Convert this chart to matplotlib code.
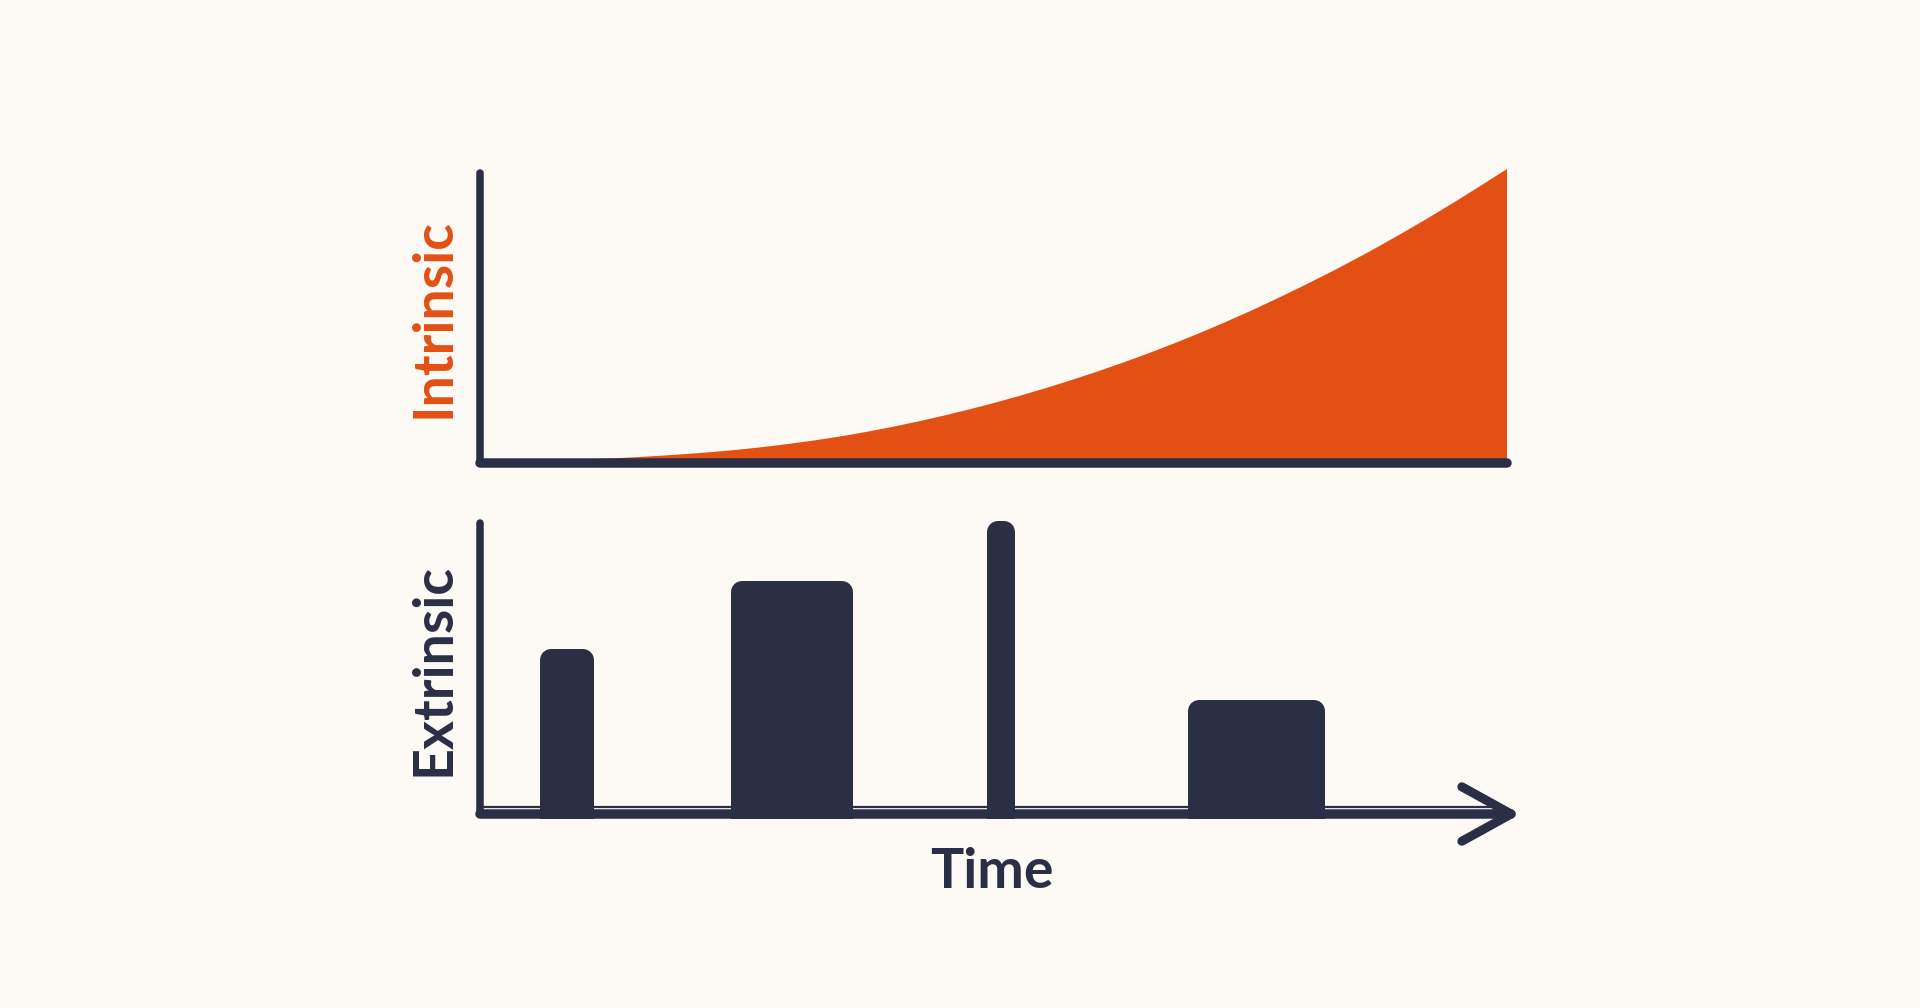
import matplotlib.pyplot as plt
from matplotlib.patches import PathPatch
from matplotlib.path import Path

# Intrinsic motivation (time 0..100, value 0..100)
intrinsic_time = [0, 5, 10, 15, 20, 25, 30, 35, 40, 45, 50,
                  55, 60, 65, 70, 75, 80, 85, 90, 95, 100]
intrinsic_value = [0, 0.5, 1.1, 1.9, 3.0, 4.4, 6.4, 8.9, 12.1, 15.9, 20.3,
                   25.3, 30.9, 37.1, 44.0, 51.6, 59.9, 68.8, 78.5, 88.9, 100]

# Extrinsic rewards: start/end time of each burst and its height
reward_start = [5.8, 24.4, 49.4, 68.9]
reward_end = [11.1, 36.3, 52.1, 82.3]
reward_height = [56.3, 79.5, 100.0, 38.9]
reward_floor = 2.4

labels = {"top": "Intrinsic", "bottom": "Extrinsic", "x": "Time"}

BG = "#FDFAF6"
ORANGE = "#E25014"
NAVY = "#2A2F45"
DPI = 100


def px(n: float) -> float:
    """Pixels to points."""
    return n * 72 / DPI


def smooth_area(xs: list[float], ys: list[float]) -> Path:
    """Closed area under the points, drawn with quadratic curves between midpoints."""
    verts = [(xs[0], 0), (xs[0], ys[0])]
    codes = [Path.MOVETO, Path.LINETO]
    for i in range(1, len(xs) - 1):
        mid = ((xs[i] + xs[i + 1]) / 2, (ys[i] + ys[i + 1]) / 2)
        verts += [(xs[i], ys[i]), mid]
        codes += [Path.CURVE3, Path.CURVE3]
    verts += [(xs[-1], ys[-1]), (xs[-1], 0), (xs[0], 0)]
    codes += [Path.LINETO, Path.LINETO, Path.CLOSEPOLY]
    return Path(verts, codes)


def draw_axes_lines(ax, y_top: float, x_end: float) -> None:
    """Hand-drawn looking axis lines with round caps."""
    ax.plot([0, 0], [0, y_top], color=NAVY, lw=px(7.5),
            solid_capstyle="round", clip_on=False, zorder=5)
    ax.plot([0, x_end], [0, 0], color=NAVY, lw=px(9.5),
            solid_capstyle="round", clip_on=False, zorder=5)


fig = plt.figure(figsize=(19.2, 10.08), dpi=DPI, facecolor=BG)

# --- top panel: intrinsic ---
ax1 = fig.add_axes([480 / 1920, (1008 - 463) / 1008, 1027 / 1920, 294 / 1008])
ax1.set_xlim(0, 100)
ax1.set_ylim(0, 100)
ax1.add_patch(PathPatch(smooth_area(intrinsic_time, intrinsic_value),
                        facecolor=ORANGE, edgecolor="none", zorder=2))
draw_axes_lines(ax1, 98.6, 100)

# --- bottom panel: extrinsic ---
ax2 = fig.add_axes([480 / 1920, (1008 - 818.7) / 1008, 1027 / 1920, 297.7 / 1008])
ax2.set_xlim(0, 100)
ax2.set_ylim(-1.6, 100)

x0, y0 = ax2.transData.transform((0, 0))
x1, y1 = ax2.transData.transform((1, 1))
radius = 11  # corner radius in px
rx = radius / (x1 - x0)
ry = radius / (y1 - y0)

ax2.hlines(reward_floor, 0, 98.5, color=NAVY, lw=px(2.2), zorder=3)
for s, e, h in zip(reward_start, reward_end, reward_height):
    ax2.bar(s + rx, h - ry + 10, width=(e - s) - 2 * rx, bottom=-10,
            align="edge", color=NAVY, edgecolor=NAVY, linewidth=px(2 * radius),
            joinstyle="round", zorder=4)

draw_axes_lines(ax2, 99.2, 100.4)
ax2.plot([95.6, 100.4, 95.6], [9.3, 0, -9.3], color=NAVY, lw=px(9),
         solid_capstyle="round", solid_joinstyle="round",
         clip_on=False, zorder=5)

for ax in (ax1, ax2):
    ax.set_facecolor("none")
    ax.axis("off")

font = ["Lato", "DejaVu Sans"]
text_kw = dict(ha="center", va="center", fontsize=40, fontweight="bold",
               family=font)
fig.text(434 / 1920, 1 - 318 / 1008, labels["top"], rotation=90,
         color=ORANGE, **text_kw)
fig.text(434 / 1920, 1 - 669 / 1008, labels["bottom"], rotation=90,
         color=NAVY, **text_kw)
fig.text(992 / 1920, 1 - 872 / 1008, labels["x"], color=NAVY, **text_kw)

fig.savefig("out.png", dpi=DPI, facecolor=BG)
